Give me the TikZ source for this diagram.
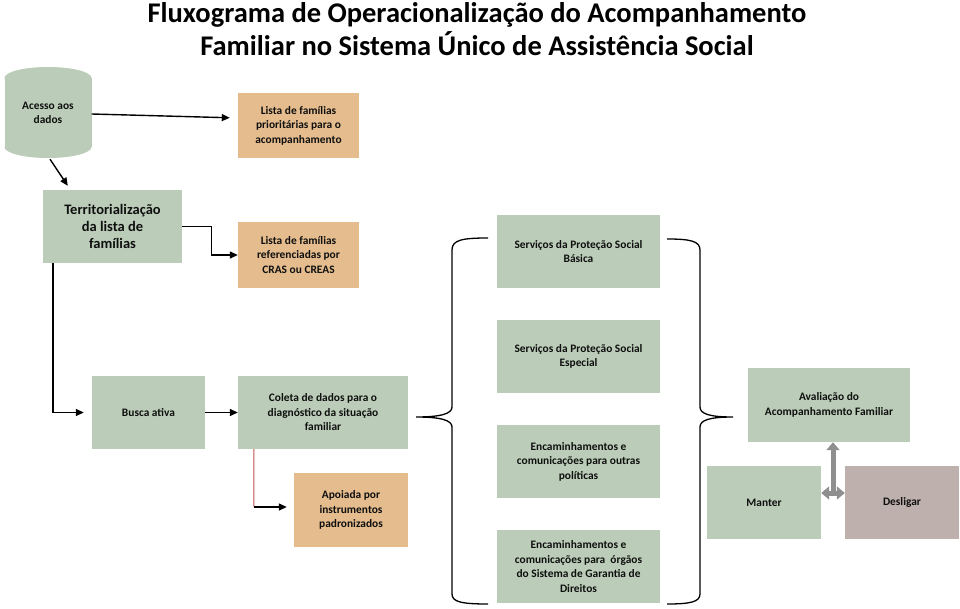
\documentclass[tikz,border=0pt]{standalone}
\usepackage{fontspec}
\setmainfont{Carlito}
\usetikzlibrary{arrows.meta,calc}
\definecolor{bxgreen}{RGB}{187,205,184}
\definecolor{bxorange}{RGB}{228,188,142}
\definecolor{bxmauve}{RGB}{190,176,172}
\definecolor{lnred}{RGB}{192,80,77}
\definecolor{garrow}{RGB}{143,143,143}
\definecolor{txt}{RGB}{15,15,15}
\begin{document}
\begin{tikzpicture}[x=1pt,y=-1pt,
  box/.style={rectangle, inner sep=2pt, align=center, text=txt,
    font=\bfseries\fontsize{11.4}{14.5}\selectfont},
  gbox/.style={box, fill=bxgreen},
  obox/.style={box, fill=bxorange},
  mbox/.style={box, fill=bxmauve},
  arr/.style={-{Triangle[length=8pt,width=7pt]}, line width=1.4pt, draw=black},
  garr/.style={line width=5pt, draw=garrow},
  gtip/.tip={Triangle[length=8pt,width=13pt]},
  bracestroke/.style={line width=1.3pt, draw=black}]
\useasboundingbox (0,0) rectangle (960,609);

% title
\node[font=\bfseries\fontsize{28.5}{33}\selectfont, align=center, text=black] (title) at (477,29)
  {Fluxograma de Operacionalização do Acompanhamento\\Familiar no Sistema Único de Assistência Social};

% cylinder
\fill[bxgreen] (48,147) ellipse[x radius=43.5pt, y radius=11pt];
\fill[bxgreen] (4.5,78) rectangle (91.5,147);
\fill[bxgreen] (48,78) ellipse[x radius=43.5pt, y radius=11pt];
\node[box, minimum width=87pt, minimum height=92pt] (acesso) at (48,113) {Acesso aos\\dados};

% boxes
\node[obox, minimum width=121pt, minimum height=65pt] (lista1) at (298.5,125.5)
  {Lista de famílias\\prioritárias para o\\acompanhamento};
\node[gbox, minimum width=139pt, minimum height=73pt, font=\bfseries\fontsize{14.5}{17}\selectfont] (terr) at (112.5,226.5)
  {Territorialização\\da lista de\\famílias};
\node[obox, minimum width=121pt, minimum height=66pt] (lista2) at (298.5,255)
  {Lista de famílias\\referenciadas por\\CRAS ou CREAS};
\node[gbox, minimum width=113pt, minimum height=73pt] (busca) at (148.5,412.5) {Busca ativa};
\node[gbox, minimum width=170pt, minimum height=73pt] (coleta) at (323,412.5)
  {Coleta de dados para o\\diagnóstico da situação\\familiar};
\node[obox, minimum width=114pt, minimum height=74pt] (apoiada) at (351,510)
  {Apoiada por\\instrumentos\\padronizados};

\node[gbox, minimum width=163pt, minimum height=73pt] (svc1) at (578.5,251.5)
  {Serviços da Proteção Social\\Básica};
\node[gbox, minimum width=163pt, minimum height=73pt] (svc2) at (578.5,356.5)
  {Serviços da Proteção Social\\Especial};
\node[gbox, minimum width=163pt, minimum height=73pt] (svc3) at (578.5,461.5)
  {Encaminhamentos e\\comunicações para outras\\políticas};
\node[gbox, minimum width=163pt, minimum height=73pt] (svc4) at (578.5,566.5)
  {Encaminhamentos e\\comunicações para \ órgãos\\do Sistema de Garantia de\\Direitos};

\node[gbox, minimum width=162pt, minimum height=74pt] (aval) at (829,405)
  {Avaliação do\\Acompanhamento Familiar};
\node[gbox, minimum width=114pt, minimum height=73pt] (manter) at (764,502.5) {Manter};
\node[mbox, minimum width=114pt, minimum height=73pt] (desligar) at (902,502.5) {Desligar};

% connectors
\draw[arr, shorten >=8pt] ([yshift=-1pt]acesso.east) -- ([yshift=7.5pt]lista1.west);
\draw[arr] ([xshift=2pt]acesso.south) -- ([xshift=25pt,yshift=4pt]terr.north west);
\draw[arr] (terr.east) -- ++(29,0) |- (lista2.west);
\draw[arr, shorten >=8pt] ([xshift=10pt]terr.south west) |- (busca.west);
\draw[arr] (busca.east) -- (coleta.west);
\coordinate (relbow) at (254,507);
\draw[lnred, line width=1pt] ([xshift=16pt]coleta.south west) -- (relbow);
\draw[arr, shorten >=7pt] (relbow) -- (apoiada.west |- relbow);

% braces
\draw[bracestroke] (488,238) .. controls (462,238) and (452,240) .. (452,250) -- (452,407)
  .. controls (452,414) and (440,417) .. (416,417)
  .. controls (440,417) and (452,420) .. (452,427) -- (452,594)
  .. controls (452,602) and (462,604) .. (488,604);
\draw[bracestroke] (667,239) .. controls (690,239) and (700,241) .. (700,250) -- (700,407)
  .. controls (700,414) and (710,417) .. (733,417)
  .. controls (710,417) and (700,420) .. (700,427) -- (700,594)
  .. controls (700,602) and (690,604) .. (667,604);

% gray arrows
\coordinate (gj) at (833,493);
\draw[garr, -gtip] (gj) -- (gj |- aval.south);
\draw[garr, gtip-gtip] (manter.east |- gj) -- (desligar.west |- gj);
\end{tikzpicture}
\end{document}
